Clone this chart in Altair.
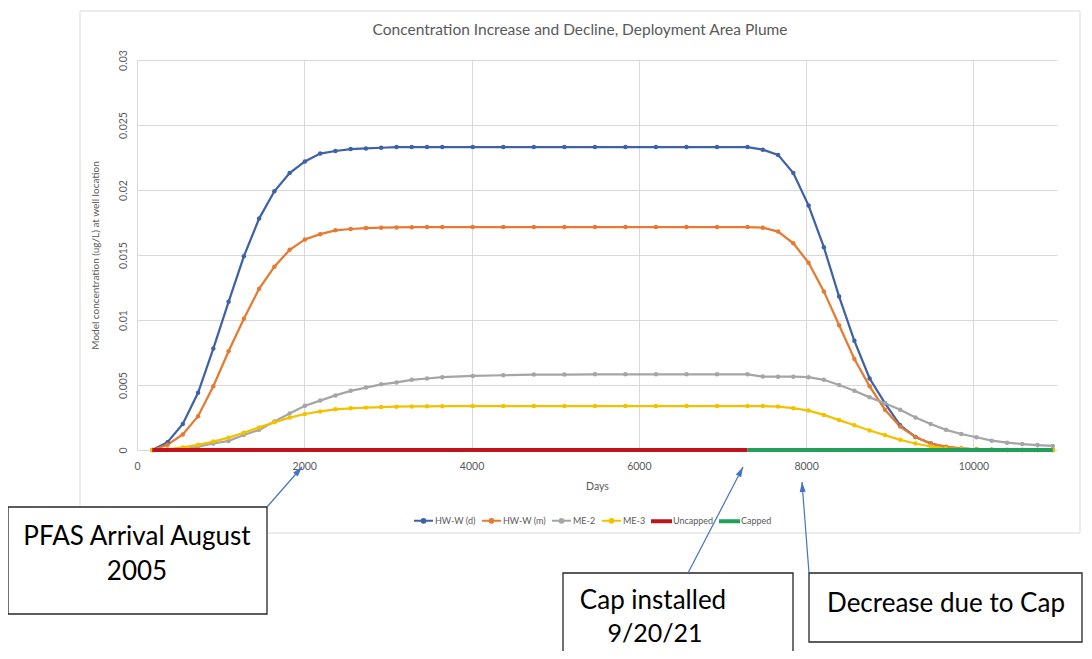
import altair as alt
import pandas as pd

# ---------------- data ----------------
days = [182.5, 365, 547.5, 730, 912.5, 1095, 1277.5, 1460, 1642.5, 1825,
        2007.5, 2190, 2372.5, 2555, 2737.5, 2920, 3102.5, 3285, 3467.5, 3650,
        4015, 4380, 4745, 5110, 5475, 5840, 6205, 6570, 6935, 7300,
        7482.5, 7665, 7847.5, 8030, 8212.5, 8395, 8577.5, 8760, 8942.5, 9125,
        9307.5, 9490, 9672.5, 9855, 10037.5, 10220, 10402.5, 10585, 10767.5, 10950]

hw_w_d = [0.0, 0.0006, 0.0020, 0.0044, 0.0078, 0.0114, 0.0149, 0.0178, 0.0199, 0.0213,
          0.0222, 0.0228, 0.0230, 0.02315, 0.0232, 0.02325, 0.0233, 0.0233, 0.0233, 0.0233,
          0.0233, 0.0233, 0.0233, 0.0233, 0.0233, 0.0233, 0.0233, 0.0233, 0.0233, 0.0233,
          0.0231, 0.0227, 0.0213, 0.0188, 0.0156, 0.0118, 0.0084, 0.0055, 0.0036, 0.0019,
          0.0010, 0.0005, 0.00022, 0.0001, 0.00004, 0.00002, 0.0, 0.0, 0.0, 0.0]

hw_w_m = [0.0, 0.0004, 0.0012, 0.0026, 0.0049, 0.0076, 0.0101, 0.0124, 0.0141, 0.0154,
          0.0162, 0.0166, 0.0169, 0.0170, 0.01707, 0.0171, 0.01712, 0.01714, 0.01715, 0.01715,
          0.01715, 0.01715, 0.01715, 0.01715, 0.01715, 0.01715, 0.01715, 0.01715, 0.01715, 0.01715,
          0.0171, 0.0168, 0.0159, 0.0144, 0.0122, 0.0096, 0.0070, 0.0049, 0.0031, 0.0018,
          0.0010, 0.0005, 0.00026, 0.00012, 0.00005, 0.00002, 0.0, 0.0, 0.0, 0.0]

me_2 = [0.0, 0.0, 0.00005, 0.00025, 0.0005, 0.0007, 0.00115, 0.00155, 0.0022, 0.0028,
        0.0034, 0.0038, 0.0042, 0.00455, 0.0048, 0.00505, 0.0052, 0.0054, 0.0055, 0.0056,
        0.0057, 0.00575, 0.0058, 0.0058, 0.00582, 0.00582, 0.00582, 0.00582, 0.00582, 0.00582,
        0.00565, 0.00564, 0.00564, 0.0056, 0.0054, 0.0050, 0.00456, 0.00405, 0.0036, 0.0031,
        0.0025, 0.0020, 0.00155, 0.00123, 0.00098, 0.00072, 0.00056, 0.00046, 0.00038, 0.00031]

me_3 = [0.0, 0.00005, 0.0002, 0.0004, 0.00065, 0.00095, 0.00133, 0.00174, 0.00213, 0.00249,
        0.00277, 0.00297, 0.00313, 0.00321, 0.00326, 0.0033, 0.00333, 0.00335, 0.00336, 0.00337,
        0.00338, 0.00338, 0.00338, 0.00338, 0.00338, 0.00338, 0.00338, 0.00338, 0.00338, 0.00338,
        0.00338, 0.00334, 0.00322, 0.00303, 0.0027, 0.0023, 0.0019, 0.0015, 0.00115, 0.00078,
        0.0005, 0.00027, 0.00013, 0.00006, 0.00003, 0.00001, 0.0, 0.0, 0.0, 0.0]

uncapped_days = [182.5, 7300]
uncapped_vals = [0.0, 0.0]
capped_days = [7300, 10950]
capped_vals = [0.0, 0.0]

series_names = ["HW-W (d)", "HW-W (m)", "ME-2", "ME-3", "Uncapped", "Capped"]
series_colors = ["#3F62A6", "#E57A30", "#A5A5A5", "#F2C200", "#C0141C", "#22A05A"]
x_ticks = [0, 2000, 4000, 6000, 8000, 10000]
y_ticks = [0, 0.005, 0.01, 0.015, 0.02, 0.025, 0.03]

title_text = "Concentration Increase and Decline, Deployment Area Plume"
x_title = "Days"
y_title = "Model concentration (ug/L) at well location"

# ---------------- tables ----------------
main_series = [("HW-W (d)", hw_w_d), ("HW-W (m)", hw_w_m), ("ME-2", me_2), ("ME-3", me_3)]
df_main = pd.concat(
    [pd.DataFrame({"day": days, "value": vals, "series": name, "k": i})
     for i, (name, vals) in enumerate(main_series)],
    ignore_index=True,
)
df_cap = pd.concat(
    [pd.DataFrame({"day": uncapped_days, "value": uncapped_vals, "series": "Uncapped", "k": 4}),
     pd.DataFrame({"day": capped_days, "value": capped_vals, "series": "Capped", "k": 5})],
    ignore_index=True,
)
df_legend = pd.DataFrame({"day": [0] * 6, "value": [0.0] * 6, "series": series_names})

FONT = "Lato"
GREY_TXT = "#595959"
GRID = "#D9D9D9"

x_enc = alt.X(
    "day:Q",
    scale=alt.Scale(domain=[0, 11000], nice=False, zero=False),
    axis=alt.Axis(values=x_ticks, format="d", title=x_title, grid=True, gridColor=GRID, gridWidth=1,
                  domain=False, ticks=False, tickSize=0, labelPadding=11, labelFlush=False,
                  labelColor=GREY_TXT, labelFont=FONT, labelFontSize=10.5,
                  titleFont=FONT, titleFontSize=10.5, titleColor=GREY_TXT, titleFontWeight="normal",
                  titleX=460, titleY=36, titleBaseline="middle", titleAlign="center"),
)
y_enc = alt.Y(
    "value:Q",
    scale=alt.Scale(domain=[0, 0.03], nice=False),
    axis=alt.Axis(values=y_ticks, format=".3~f", title=y_title, grid=True, gridColor=GRID, gridWidth=1,
                  domain=False, ticks=False, tickSize=0, labelPadding=14, labelFlush=False,
                  labelAngle=270, labelAlign="center", labelBaseline="middle",
                  labelColor=GREY_TXT, labelFont=FONT, labelFontSize=10.5,
                  titleFont=FONT, titleFontSize=10, titleColor=GREY_TXT, titleFontWeight="normal",
                  titleAngle=270, titleX=-42, titleY=195, titleAlign="center", titleBaseline="middle"),
)
legend_def = alt.Legend(
    title=None, orient="none", legendX=276, legendY=450, direction="horizontal",
    symbolSize=361, symbolStrokeWidth=2, symbolOpacity=1, columnPadding=2, labelOffset=1,
    labelFont=FONT, labelFontSize=9, labelColor=GREY_TXT,
)
color_enc = alt.Color("series:N", scale=alt.Scale(domain=series_names, range=series_colors),
                      legend=legend_def)

MARK_PATH = "M-1,0L1,0M-0.2,0A0.2,0.2,0,1,1,0.2,0A0.2,0.2,0,1,1,-0.2,0Z"
BAR_PATH = "M-1,-0.11L1,-0.11L1,0.11L-1,0.11Z"
shape_enc = alt.Shape("series:N", scale=alt.Scale(domain=series_names,
                      range=[MARK_PATH] * 4 + [BAR_PATH] * 2), legend=legend_def)

# ---------------- decoration (pixel positions relative to plot origin) ----------------
one = pd.DataFrame({"a": [0]})

def rect(x, x2, y, y2, fill, stroke, sw):
    return alt.Chart(one).mark_rect(fill=fill, stroke=stroke, strokeWidth=sw).encode(
        x=alt.value(x), x2=alt.value(x2), y=alt.value(y), y2=alt.value(y2))

def text(t, x, y, size, color="#000000", baseline="alphabetic"):
    return alt.Chart(one).mark_text(text=t, font=FONT, fontSize=size, color=color,
                                    align="center", baseline=baseline).encode(
        x=alt.value(x), y=alt.value(y))

def arrow(x0, y0, x1, y1, ang):
    shaft = alt.Chart(one).mark_rule(color="#4472C4", strokeWidth=1.2).encode(
        x=alt.value(x0), y=alt.value(y0), x2=alt.value(x1), y2=alt.value(y1))
    head = alt.Chart(one).mark_point(shape="M0,0L0.6,2L-0.6,2Z", filled=True, size=100,
                                     angle=ang, color="#4472C4", opacity=1, strokeWidth=0).encode(
        x=alt.value(x1), y=alt.value(y1))
    return shaft + head

container = rect(-57, 943, -49, 473, "transparent", GRID, 1)
title = text(title_text, 443, -30, 15.5, GREY_TXT, "middle")

# ---------------- data layers ----------------
lines = alt.Chart(df_main).mark_line(strokeWidth=2.25).encode(
    x=x_enc, y=y_enc, color=color_enc, order="day:Q", detail="k:N")
points = alt.Chart(df_main).mark_point(filled=True, size=20, opacity=1).encode(
    x=x_enc, y=y_enc, color=color_enc)
caps = alt.Chart(df_cap).mark_line(strokeWidth=3.8).encode(
    x=x_enc, y=y_enc, color=color_enc, order="day:Q", detail="k:N")
legend_layer = alt.Chart(df_legend).mark_point(filled=True, opacity=0).encode(
    x=x_enc, y=y_enc, color=color_enc, shape=shape_enc)

annotations = [
    rect(-129, 130, 447, 554, "#FFFFFF", "#262626", 1.3),
    text("PFAS Arrival August", 0, 485, 26),
    text("2005", 0, 520, 26),
    rect(426, 656, 513, 620, "#FFFFFF", "#262626", 1.3),
    text("Cap installed", 516, 549, 26),
    text("9/20/21", 518, 582, 25),
    rect(672, 945, 513, 582, "#FFFFFF", "#262626", 1.3),
    text("Decrease due to Cap", 809, 552, 26),
    arrow(130, 447, 165, 407, 41),
    arrow(551, 513, 606, 407, 27),
    arrow(672, 513, 665, 422, 356),
]

chart = alt.layer(container, title, lines, points, caps, legend_layer, *annotations).properties(
    width=920, height=390,
    autosize=alt.AutoSizeParams(type="none"),
    padding={"left": 129, "top": 52, "right": 27, "bottom": 201},
    background="#FFFFFF",
).configure_view(stroke=None)

chart.save("out.html", embed_options={"renderer": "svg", "actions": False})
